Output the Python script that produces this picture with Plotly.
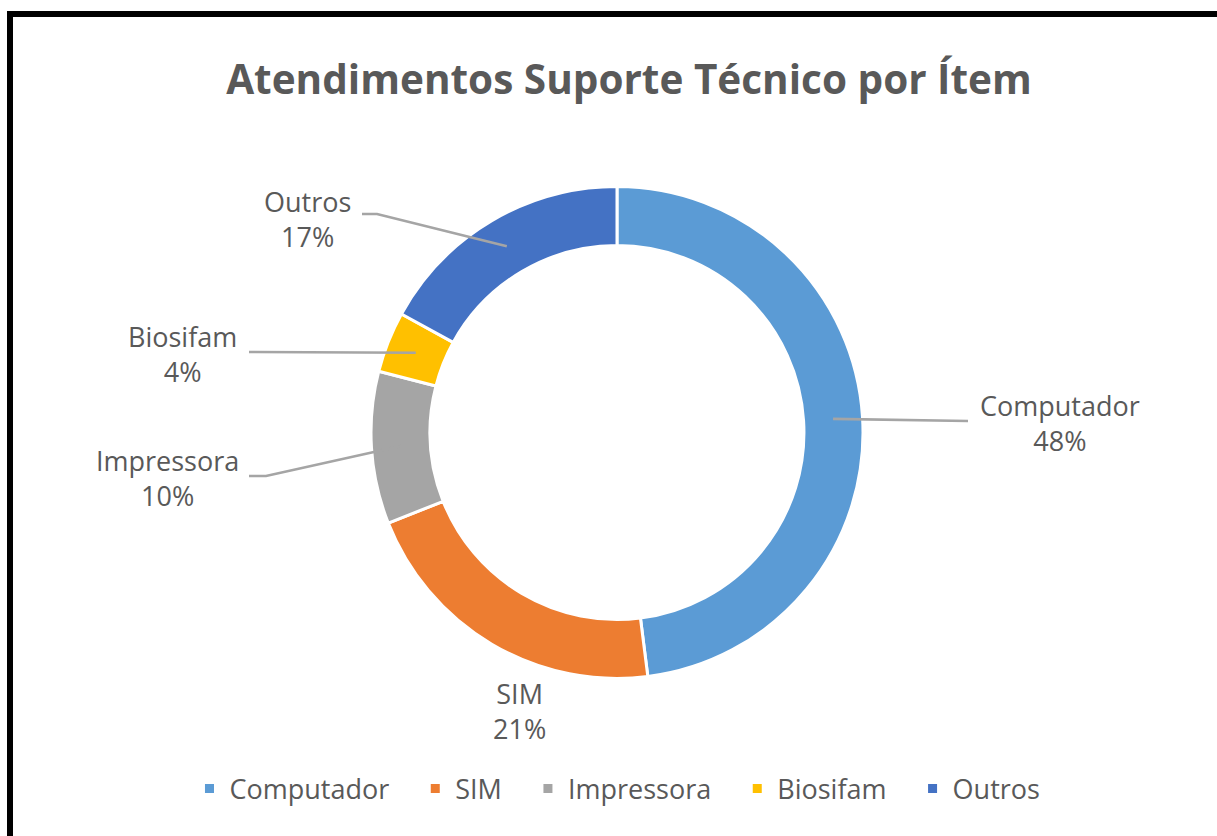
import math
import plotly.graph_objects as go

# dados do gráfico
itens = ["Computador", "SIM", "Impressora", "Biosifam", "Outros"]
percentuais = [48, 21, 10, 4, 17]
cores = ["#5B9BD5", "#ED7D31", "#A5A5A5", "#FFC000", "#4472C4"]

W, H = 1217, 836
cx, cy, r_ext = 617, 432.5, 246   # centro e raio da rosca (pixels)
buraco = 0.76
cinza = "#595959"

# posição dos rótulos (centro do texto) e ponto de partida da linha guia, em pixels
rotulo_pos = {
    "Computador": (1060, 423),
    "SIM": (519, 711),
    "Impressora": (167, 478),
    "Biosifam": (182, 354),
    "Outros": (307, 219),
}
linha_pontos = {
    "Computador": [(968, 421)],
    "SIM": None,
    "Impressora": [(249, 476), (266, 476)],
    "Biosifam": [(249, 352)],
    "Outros": [(362, 214), (377, 214)],
}


def px(x, y):
    # pixels -> coordenadas paper
    return x / W, 1 - y / H


# espaço extra entre os itens da legenda
nomes_legenda = [n + "\u00a0\u00a0\u00a0" for n in itens]

fig = go.Figure(go.Pie(
    labels=nomes_legenda,
    values=percentuais,
    hole=buraco,
    sort=False,
    direction="clockwise",
    rotation=0,
    textinfo="none",
    marker=dict(colors=cores, line=dict(color="white", width=3)),
    domain=dict(x=[(cx - r_ext) / W, (cx + r_ext) / W],
                y=[1 - (cy + r_ext) / H, 1 - (cy - r_ext) / H]),
    showlegend=True,
))

total = sum(percentuais)
r_meio = r_ext * (1 + buraco) / 2
acum = 0
shapes = []
annotations = []
for nome, v in zip(itens, percentuais):
    ang = 2 * math.pi * (acum + v / 2) / total
    acum += v
    ax = cx + r_meio * math.sin(ang)
    ay = cy - r_meio * math.cos(ang)
    pts = linha_pontos[nome]
    if pts:
        caminho = pts + [(ax, ay)]
        path = ""
        for i, (x, y) in enumerate(caminho):
            X, Y = px(x, y)
            path += ("M" if i == 0 else " L") + f" {X:.5f},{Y:.5f}"
        shapes.append(dict(type="path", xref="paper", yref="paper", path=path,
                           line=dict(color="#A5A5A5", width=2.6)))
    lx, ly = px(*rotulo_pos[nome])
    annotations.append(dict(
        x=lx, y=ly, xref="paper", yref="paper", showarrow=False,
        xanchor="center", yanchor="middle",
        text=f"{nome}<br>{round(v / total * 100)}%",
        font=dict(family="Open Sans", size=27, color=cinza),
    ))

# moldura preta (esquerda e topo)
shapes.append(dict(type="line", xref="paper", yref="paper",
                   x0=10 / W, x1=1.1, y0=1 - 14 / H, y1=1 - 14 / H,
                   line=dict(color="black", width=6)))
shapes.append(dict(type="line", xref="paper", yref="paper",
                   x0=10 / W, x1=10 / W, y0=-0.1, y1=1 - 11 / H,
                   line=dict(color="black", width=6)))

fig.update_layout(
    width=W, height=H,
    margin=dict(l=0, r=0, t=0, b=0),
    paper_bgcolor="white",
    plot_bgcolor="white",
    title=dict(text="<b>Atendimentos Suporte Técnico por Ítem</b>",
               x=629 / W, xanchor="center", y=1 - 80 / H, yanchor="middle",
               font=dict(family="Open Sans", size=40.5, color=cinza)),
    legend=dict(orientation="h", x=0.516, xanchor="center",
                y=1 - 789 / H, yanchor="middle",
                font=dict(family="Open Sans", size=27, color=cinza),
                itemclick=False),
    shapes=shapes,
    annotations=annotations,
)

fig.write_html("out.html", config={"displayModeBar": False},
               post_script="document.body.style.margin='0';")
